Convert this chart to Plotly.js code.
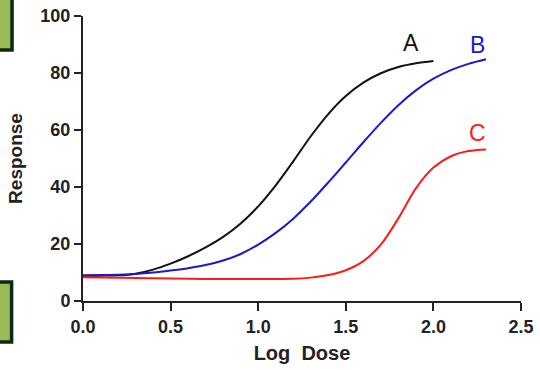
<!DOCTYPE html>
<html>
<head>
<meta charset="utf-8">
<script src="https://cdn.plot.ly/plotly-3.0.1.min.js"></script>
<style>html,body{margin:0;padding:0;background:#fff;}#chart{width:540px;height:370px;}</style>
</head>
<body>
<div id="chart"></div>
<script>
var doseA = [0.0, 0.1, 0.2, 0.3, 0.4, 0.5, 0.6, 0.7, 0.8, 0.9, 1.0, 1.1, 1.2, 1.3, 1.4, 1.5, 1.6, 1.7, 1.8, 1.9, 2.0];
var respA = [8.8, 8.9, 9.0, 9.6, 11.0, 13.1, 15.7, 18.8, 22.5, 27.2, 33.2, 40.6, 49.0, 57.8, 65.6, 71.9, 76.6, 79.9, 82.1, 83.4, 84.2];
var doseB = [0.0, 0.1, 0.2, 0.3, 0.4, 0.5, 0.6, 0.7, 0.8, 0.9, 1.0, 1.1, 1.2, 1.3, 1.4, 1.5, 1.6, 1.7, 1.8, 1.9, 2.0, 2.1, 2.2, 2.3];
var respB = [9.0, 9.1, 9.2, 9.5, 10.0, 10.7, 11.5, 12.6, 14.2, 16.5, 19.8, 23.9, 28.9, 34.9, 41.6, 48.6, 55.7, 62.5, 68.7, 73.9, 78.0, 81.0, 83.2, 84.8];
var doseC = [0.0, 0.2, 0.4, 0.6, 0.8, 1.0, 1.2, 1.3, 1.4, 1.5, 1.6, 1.7, 1.8, 1.9, 2.0, 2.1, 2.2, 2.3];
var respC = [8.3, 8.2, 8.0, 7.8, 7.7, 7.7, 7.8, 8.2, 9.1, 10.8, 14.0, 19.8, 29.0, 39.5, 46.8, 50.8, 52.6, 53.2];
var seriesNames = ['A', 'B', 'C'];
var seriesColors = ['#111111', '#1a1acc', '#ff1a1a'];
var labelX = [1.873, 2.25, 2.25];
var labelY = [90.4, 89.8, 58.8];
var xTicks = [0.0, 0.5, 1.0, 1.5, 2.0, 2.5];
var xTickText = ['0.0', '0.5', '1.0', '1.5', '2.0', '2.5'];
var yTicks = [0, 20, 40, 60, 80, 100];

var xs = [doseA, doseB, doseC], ys = [respA, respB, respC];
var traces = seriesNames.map(function (n, i) {
  return {x: xs[i], y: ys[i], type: 'scatter', mode: 'lines', name: n,
    line: {color: seriesColors[i], width: 2, shape: 'spline', smoothing: 0.9}};
});
var annotations = seriesNames.map(function (n, i) {
  return {x: labelX[i], y: labelY[i], xref: 'x', yref: 'y', text: n, showarrow: false,
    font: {family: 'Liberation Sans, Arial', size: 23, color: seriesColors[i]}};
});
var layout = {
  width: 540, height: 370,
  margin: {l: 83, r: 19, t: 16, b: 69},
  paper_bgcolor: '#fff', plot_bgcolor: '#fff',
  showlegend: false,
  font: {family: 'Liberation Sans, Arial', color: '#222'},
  xaxis: {range: [0, 2.5], tickvals: xTicks, ticktext: xTickText, showgrid: false, zeroline: false,
    showline: true, linecolor: '#222', linewidth: 2, ticks: 'outside', ticklen: 8, tickwidth: 2, tickcolor: '#222',
    tickfont: {size: 18, family: 'Liberation Sans, Arial', weight: 'bold', color: '#222'},
    title: {text: '<b>Log  Dose</b>', font: {size: 20, color: '#222'}, standoff: 10}},
  yaxis: {range: [0, 100], tickvals: yTicks, showgrid: false, zeroline: false,
    showline: true, linecolor: '#222', linewidth: 2, ticks: 'outside', ticklen: 7, tickwidth: 2, tickcolor: '#222',
    tickfont: {size: 18, family: 'Liberation Sans, Arial', weight: 'bold', color: '#222'},
    title: {text: '<b>Response</b>', font: {size: 19, color: '#222'}, standoff: 13}},
  annotations: annotations,
  shapes: [
    {type: 'rect', xref: 'paper', yref: 'paper', x0: -0.22, x1: -0.162, y0: 0.881, y1: 1.1,
      fillcolor: '#9bbb59', line: {color: '#0d2a12', width: 3.5}},
    {type: 'rect', xref: 'paper', yref: 'paper', x0: -0.22, x1: -0.163, y0: -0.144, y1: 0.0667,
      fillcolor: '#9bbb59', line: {color: '#0d2a12', width: 3.5}}
  ]
};
Plotly.newPlot('chart', traces, layout, {displayModeBar: false, staticPlot: true});
</script>
</body>
</html>
